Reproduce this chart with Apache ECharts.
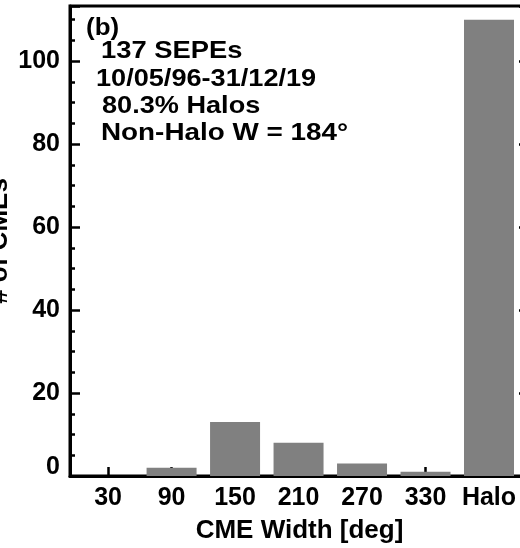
<!DOCTYPE html>
<html>
<head>
<meta charset="utf-8">
<script src="https://cdn.jsdelivr.net/npm/echarts@6/dist/echarts.min.js"></script>
<style>
  html, body { margin: 0; padding: 0; background: #fff; }
  #main { width: 520px; height: 548px; }
</style>
</head>
<body>
<div id="main"></div>
<script>
// CME width bins and event counts
const categories = ["30", "90", "150", "210", "270", "330", "Halo"];
const counts = [0, 2, 13, 8, 3, 1, 110];
const yLabelValues = [0, 20, 40, 60, 80, 100];
const infoLines = ["(b)", "137 SEPEs", "10/05/96-31/12/19", "80.3% Halos", "Non-Halo W = 184\u00b0"];

const font = "'Liberation Sans', Arial, sans-serif";
const catIdx = categories.map((c, i) => i);

var myChart = echarts.init(document.getElementById("main"));

// info text block, top-left inside the frame: [x, y, stretch]
const infoPos = [[86, 28, 1.08], [101, 51, 1.14], [96, 79, 1.13], [102, 106, 1.13], [101, 133, 1.16]];
const graphics = infoLines.map((t, i) => ({
  type: "text",
  x: infoPos[i][0],
  y: infoPos[i][1],
  scaleX: infoPos[i][2],
  style: { text: t, font: "bold 24px " + font, fill: "#000", verticalAlign: "middle" },
}));

const yBase = {
  type: "value",
  min: 0,
  max: 113.3,
  splitLine: { show: false },
};

myChart.setOption({
  animation: false,
  backgroundColor: "#fff",
  grid: {
    left: 70, right: -9, top: 6, bottom: 72,
    outerBoundsMode: "none",
    containLabel: false,
    show: true, borderColor: "#000", borderWidth: 3,
  },
  xAxis: {
    type: "value",
    min: -0.6,
    max: 6.63,
    name: "CME Width [deg]",
    nameLocation: "middle",
    nameGap: 42,
    nameMoveOverlap: false,
    nameTextStyle: { fontFamily: font, fontWeight: "bold", fontSize: 26, color: "#000" },
    axisLine: { show: true, onZero: false, lineStyle: { color: "#000", width: 3 } },
    axisTick: { show: true, inside: true, length: 9, customValues: catIdx, lineStyle: { color: "#000", width: 2.5 } },
    axisLabel: {
      customValues: catIdx,
      margin: 10,
      fontFamily: font, fontWeight: "bold", fontSize: 25, color: "#000",
      formatter: (v) => categories[Math.round(v)],
    },
    splitLine: { show: false },
  },
  yAxis: [
    Object.assign({}, yBase, {
      interval: 20,
      position: "left",
      name: "# of CMEs",
      nameLocation: "middle",
      nameGap: 57,
      nameMoveOverlap: false,
      nameTextStyle: { fontFamily: font, fontWeight: "bold", fontSize: 26, color: "#000" },
      axisLine: { show: true, onZero: false, lineStyle: { color: "#000", width: 3 } },
      axisTick: { show: true, inside: true, length: 10, lineStyle: { color: "#000", width: 2.5 } },
      axisLabel: {
        margin: 10,
        fontFamily: font, fontWeight: "bold", fontSize: 25, color: "#000",
        formatter: (v) => (v === 0 ? "{z|0}" : yLabelValues.includes(v) ? String(v) : ""),
        rich: { z: { fontFamily: font, fontWeight: "bold", fontSize: 25, color: "#000", padding: [0, 0, 18, 0] } },
      },
    }),
    Object.assign({}, yBase, {
      // minor ticks every 5
      interval: 5,
      position: "left",
      offset: 0,
      axisLine: { show: false, onZero: false },
      axisTick: { show: true, inside: true, length: 5, lineStyle: { color: "#000", width: 2.5 } },
      axisLabel: { show: false },
    }),
    Object.assign({}, yBase, {
      interval: 20,
      position: "right",
      axisLine: { show: true, onZero: false, lineStyle: { color: "#000", width: 3 } },
      axisTick: { show: true, inside: true, length: 10, lineStyle: { color: "#000", width: 2.5 } },
      axisLabel: { show: false },
    }),
  ],
  series: [
    {
      type: "bar",
      yAxisIndex: 0,
      barWidth: 50,
      data: counts.map((v, i) => [i, v]),
      itemStyle: { color: "#808080" },
      z: 1,
    },
  ],
  graphic: graphics,
});
</script>
</body>
</html>
